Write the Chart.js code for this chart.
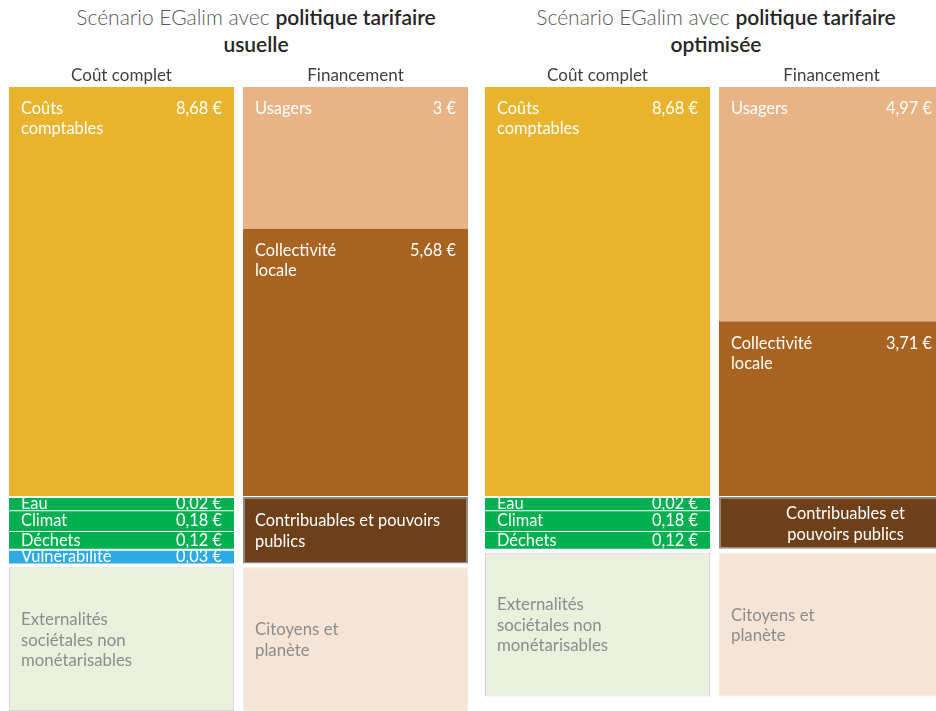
<!DOCTYPE html>
<html lang="fr">
<head>
<meta charset="UTF-8">
<title>Scénario EGalim - coût complet et financement</title>
<script src="https://cdn.jsdelivr.net/npm/chart.js"></script>
<style>
    body {
        margin: 0;
        width: 936px;
        height: 711px;
        overflow: hidden;
        position: relative;
        background: #fff;
        font-family: 'Lato', 'Open Sans', sans-serif;
    }
    .title {
        position: absolute;
        top: 3px;
        width: 460px;
        text-align: center;
        font-size: 21px;
        line-height: 27px;
        color: #595959;
        font-weight: 300;
    }
    .title b {
        color: #262626;
        font-weight: 600;
    }
    .panel {
        position: absolute;
        top: 60px;
    }
</style>
</head>
<body>
    <div class="title" style="left:26px">Scénario EGalim avec <b>politique tarifaire</b><br><b>usuelle</b></div>
    <div class="title" style="left:486px">Scénario EGalim avec <b>politique tarifaire</b><br><b>optimisée</b></div>
    <div class="panel" style="left:0"><canvas id="chart-usuelle" width="477" height="651"></canvas></div>
    <div class="panel" style="left:476px"><canvas id="chart-optimisee" width="477" height="651"></canvas></div>

<script>
    // columns of each panel
    const columns = ['Coût complet', 'Financement'];

    // coût complet (€ par repas)
    const costLabels = ['Coûts\ncomptables', 'Eau', 'Climat', 'Déchets', 'Vulnérabilité'];
    const costUsuelle = [8.68, 0.02, 0.18, 0.12, 0.03];
    const costOptimisee = [8.68, 0.02, 0.18, 0.12, null];

    // financement (€ par repas)
    const fundLabels = ['Usagers', 'Collectivité\nlocale'];
    const fundUsuelle = [3, 5.68];
    const fundOptimisee = [4.97, 3.71];

    // non monetised blocks
    const publicLabels = ['Contribuables et pouvoirs\npublics', 'Contribuables et\npouvoirs publics'];
    const externalLabel = 'Externalités\nsociétales non\nmonétarisables';
    const citizenLabel = 'Citoyens et\nplanète';

    const costColors = ['#E8B42E', '#00B050', '#00B050', '#00B050', '#2DA9E3'];
    const fundColors = ['#E8B486', '#A86320'];

    const SMALL_PAD = 0.24;   // small externalities are enlarged so their label fits
    const EXTERNAL_HEIGHT = 3.05;
    const Y_MAX = 13.24;

    function euro(v) {
        return (Number.isInteger(v) ? String(v) : v.toFixed(2).replace('.', ',')) + ' €';
    }

    function bar(col, start, end, color, extra) {
        const data = [null, null];
        data[col] = [start, end];
        return Object.assign({
            data: data,
            backgroundColor: color,
            borderWidth: 0,
            borderSkipped: false,
            textColor: '#fff'
        }, extra);
    }

    function buildDatasets(costVals, fundVals, publicLabel, publicAlign) {
        const sets = [];
        // cost column
        let y = 0;
        let prevColor = null;
        costVals.forEach((v, i) => {
            if (v == null) return;
            if (prevColor) y += prevColor === costColors[i] ? 0.02 : 0.04;
            const h = i === 0 ? v : v + SMALL_PAD;
            sets.push(bar(0, y, y + h, costColors[i], {
                blockLabel: costLabels[i],
                valueText: euro(v),
                mode: i === 0 ? 'top' : 'inline'
            }));
            y += h;
            prevColor = costColors[i];
        });
        const monetEnd = y;
        const extStart = monetEnd + 0.08;

        sets.push(bar(0, extStart, extStart + EXTERNAL_HEIGHT, '#E9F0DC', {
            borderWidth: 1,
            borderColor: '#F0CBE2',
            blockLabel: externalLabel,
            mode: 'center',
            textColor: '#8C8C8C'
        }));

        // funding column
        let f = 0;
        fundVals.forEach((v, i) => {
            sets.push(bar(1, f, f + v, fundColors[i], {
                blockLabel: fundLabels[i],
                valueText: euro(v),
                mode: 'top'
            }));
            f += v;
        });
        sets.push(bar(1, f + 0.02, monetEnd, '#6E4019', {
            borderWidth: 1.5,
            borderColor: '#8A8A8A',
            blockLabel: publicLabel,
            mode: 'center',
            align: publicAlign
        }));
        sets.push(bar(1, extStart, extStart + EXTERNAL_HEIGHT, '#F6E5D6', {
            borderWidth: 1,
            borderColor: '#F8EADF',
            blockLabel: citizenLabel,
            mode: 'center',
            textColor: '#8C8C8C'
        }));
        return sets;
    }

    const blockLabels = {
        id: 'blockLabels',
        afterDatasetsDraw(chart) {
            const ctx = chart.ctx;
            chart.data.datasets.forEach((ds, di) => {
                chart.getDatasetMeta(di).data.forEach((el, idx) => {
                    if (ds.data[idx] == null || !ds.blockLabel) return;
                    const p = el.getProps(['x', 'y', 'base', 'width'], true);
                    const left = p.x - p.width / 2;
                    const right = p.x + p.width / 2;
                    const top = Math.min(p.y, p.base);
                    const bottom = Math.max(p.y, p.base);
                    const lines = ds.blockLabel.split('\n');

                    ctx.save();
                    ctx.beginPath();
                    ctx.rect(left, top, right - left, bottom - top);
                    ctx.clip();
                    ctx.fillStyle = ds.textColor;
                    const grey = ds.textColor !== '#fff';
                    ctx.font = (grey ? '16.8px' : '16.4px') + ' Lato, "Open Sans", sans-serif';
                    ctx.textBaseline = 'middle';

                    let y0;
                    let lh = 20;
                    if (ds.mode === 'top') {
                        y0 = top + 22;
                    } else if (ds.mode === 'inline') {
                        y0 = (top + bottom) / 2;
                    } else {
                        lh = grey ? 20.5 : 21;
                        y0 = (top + bottom) / 2 - (lines.length - 1) * lh / 2 + 1;
                    }
                    if (ds.align === 'center') {
                        ctx.textAlign = 'center';
                        lines.forEach((t, k) => ctx.fillText(t, p.x + 14, y0 + k * lh));
                    } else {
                        ctx.textAlign = 'left';
                        lines.forEach((t, k) => ctx.fillText(t, left + 12, y0 + k * lh));
                    }
                    if (ds.valueText) {
                        ctx.textAlign = 'right';
                        ctx.fillText(ds.valueText, right - 12, y0);
                    }
                    ctx.restore();
                });
            });
        }
    };

    function makeChart(id, datasets) {
        return new Chart(document.getElementById(id), {
            type: 'bar',
            data: { labels: columns, datasets: datasets },
            options: {
                responsive: false,
                animation: false,
                devicePixelRatio: 1,
                grouped: false,
                barPercentage: 1,
                categoryPercentage: 225 / 234,
                layout: { padding: { left: 4.5, right: 4.5, top: 0, bottom: 0 } },
                plugins: { legend: { display: false }, tooltip: { enabled: false } },
                scales: {
                    x: {
                        position: 'top',
                        grid: { display: false, drawTicks: false },
                        border: { display: false },
                        ticks: {
                            color: '#404040',
                            font: { family: 'Lato', size: 17 },
                            padding: 1
                        },
                        afterFit(scale) { scale.height = 27; }
                    },
                    y: {
                        display: false,
                        reverse: true,
                        min: 0,
                        max: Y_MAX
                    }
                }
            },
            plugins: [blockLabels]
        });
    }

    makeChart('chart-usuelle', buildDatasets(costUsuelle, fundUsuelle, publicLabels[0], 'left'));
    makeChart('chart-optimisee', buildDatasets(costOptimisee, fundOptimisee, publicLabels[1], 'center'));
</script>
</body>
</html>
